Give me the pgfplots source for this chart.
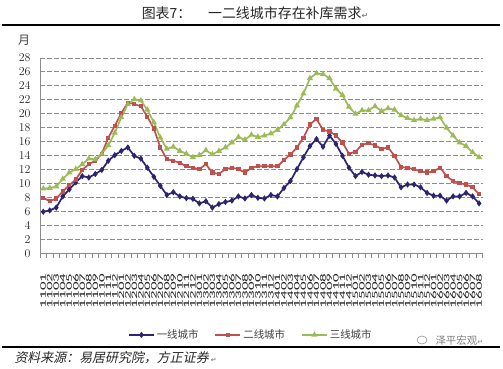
\documentclass[border=0pt]{standalone}
\usepackage{pgfplots}
\pgfplotsset{compat=1.18}
\usepackage{pgfplotstable}
\usepackage{fontspec}
\setmainfont{Carlito}
\newfontfamily\cjk{Noto Sans CJK SC}
\newfontfamily\cjkit[FakeSlant=0.2]{Noto Sans CJK SC}
\newfontfamily\dejavu{DejaVu Sans}
\definecolor{navy}{RGB}{43,36,110}
\definecolor{cred}{RGB}{192,80,77}
\definecolor{cgreen}{RGB}{155,187,89}
\definecolor{gridc}{RGB}{140,140,140}
\pgfplotstableread{
i a b c
0 6.0 8.0 9.3
1 6.2 7.5 9.4
2 6.6 7.9 9.6
3 8.2 8.9 10.7
4 9.2 9.8 11.6
5 10.2 10.6 12.1
6 11.1 12.0 12.8
7 10.9 12.8 13.6
8 11.4 13.3 13.5
9 12.0 14.3 14.3
10 13.3 16.6 15.5
11 14.1 18.3 17.3
12 14.7 20.1 19.5
13 15.2 21.6 21.4
14 14.0 21.4 22.1
15 13.6 21.1 21.9
16 12.3 19.6 20.6
17 11.0 17.9 18.8
18 9.7 15.2 16.6
19 8.4 13.5 15.0
20 8.8 13.3 15.3
21 8.2 13.0 14.7
22 7.95 12.5 14.3
23 7.85 12.3 13.8
24 7.2 12.1 14.1
25 7.5 12.8 14.8
26 6.6 11.6 14.2
27 7.1 11.4 14.7
28 7.4 12.1 15.2
29 7.6 12.3 15.9
30 8.2 12.1 16.7
31 7.9 11.6 16.3
32 8.4 12.3 17.0
33 8.0 12.5 16.7
34 7.9 12.5 16.9
35 8.4 12.5 17.2
36 8.2 12.5 17.7
37 9.4 13.4 18.5
38 10.4 14.2 19.5
39 12.1 15.2 21.2
40 13.8 16.6 22.9
41 15.4 18.5 25.1
42 16.4 19.3 25.8
43 15.3 17.7 25.7
44 16.9 17.5 25.1
45 15.7 16.9 23.6
46 14.0 15.9 22.7
47 12.3 14.3 21.0
48 11.1 14.6 20.0
49 11.7 15.6 20.5
50 11.3 15.8 20.5
51 11.2 15.5 21.1
52 11.1 15.0 20.4
53 11.2 15.2 20.8
54 10.9 14.0 20.6
55 9.5 12.4 19.8
56 9.9 12.3 19.4
57 9.9 12.1 19.1
58 9.5 11.8 19.3
59 8.7 11.6 19.1
60 8.3 11.8 19.3
61 8.3 12.3 19.5
62 7.6 11.1 18.0
63 8.2 10.4 16.9
64 8.2 10.1 15.9
65 8.7 9.9 15.4
66 8.2 9.5 14.5
67 7.2 8.5 13.8
}\datatable
\begin{document}
\begin{tikzpicture}
\useasboundingbox (0,0) rectangle (503bp,369bp);
% title
\node[font=\cjk\fontsize{14}{14}\selectfont, text=black!85] at (255bp,356bp) {图表7：\hspace{1.2em}一二线城市存在补库需求{\dejavu\fontsize{8}{8}\selectfont\textcolor{black!60}{↵}}};
\draw[line width=1.6pt] (2bp,344bp) -- (500bp,344bp);
% y unit
\node[font=\cjk\fontsize{12}{12}\selectfont, text=black!75] at (24bp,329bp) {月};
\begin{axis}[
  at={(40bp,115.3bp)}, anchor=south west,
  scale only axis,
  width=443bp, height=195.7bp,
  xmin=-0.5, xmax=67.6,
  ymin=0, ymax=28,
  ytick={0,2,...,28},
  xtick={0,...,67},
  xticklabels={1101,1102,1103,1104,1105,1106,1107,1108,1109,1110,1111,1112,
               1201,1202,1203,1204,1205,1206,1207,1208,1209,1210,1211,1212,
               1301,1302,1303,1304,1305,1306,1307,1308,1309,1310,1311,1312,
               1401,1402,1403,1404,1405,1406,1407,1408,1409,1410,1411,1412,
               1501,1502,1503,1504,1505,1506,1507,1508,1509,1510,1511,1512,
               1601,1602,1603,1604,1605,1606,1607,1608},
  minor xtick={-0.5,0.5,...,67.5},
  axis x line*=bottom, axis y line*=left,
  axis line style={gridc, line width=0.9pt, -},
  major tick length=0pt,
  minor tick length=4.5bp,
  tick align=outside,
  minor tick style={gridc, line width=0.7pt},
  ymajorgrids,
  grid style={gridc, line width=1pt, dash pattern=on 4.5bp off 2.5bp},
  x tick label style={rotate=90, anchor=east, font=\fontsize{8.5}{8.5}\selectfont, xscale=2.0, text=black!85},
  xticklabel shift=13bp,
  y tick label style={font=\fontsize{12.5}{12.5}\selectfont, text=black!85},
  yticklabel shift=6bp,
  clip=false,
  legend columns=3,
  legend style={at={(0.476,-0.415)}, anchor=center, draw=none, fill=none,
     font=\cjk\fontsize{10.5}{10.5}\selectfont, text=black!75,
     /tikz/every even column/.append style={column sep=14bp}},
  legend image code/.code={\draw[mark repeat=2,mark phase=2,#1] plot coordinates {(0bp,0bp) (12.5bp,0bp) (25bp,0bp)};},
]
\addplot[navy, line width=1.7pt, mark=diamond*, mark size=1.8pt] table[x=i,y=a] {\datatable};
\addlegendentry{一线城市}
\addplot[cred, line width=1.7pt, mark=square*, mark size=1.3pt] table[x=i,y=b] {\datatable};
\addlegendentry{二线城市}
\addplot[cgreen, line width=1.7pt, mark=triangle*, mark size=1.9pt] table[x=i,y=c] {\datatable};
\addlegendentry{三线城市}
\end{axis}
% bottom rule and source
\draw[line width=1.3pt] (2bp,22bp) -- (500bp,22bp);
\node[anchor=west, font=\cjkit\fontsize{13}{13}\selectfont, text=black!85] at (11bp,11bp) {资料来源：易居研究院，方正证券\,{\dejavu\fontsize{7}{7}\selectfont\textcolor{black!60}{↵}}};
% watermark
\draw[black!45, line width=0.6pt] (422bp,29bp) ellipse (5bp and 4bp);
\node[anchor=west, font=\cjk\fontsize{10.5}{10.5}\selectfont, text=black!50] at (432bp,29bp) {泽平宏观{\dejavu\fontsize{7}{7}\selectfont↵}};
\end{tikzpicture}
\end{document}
